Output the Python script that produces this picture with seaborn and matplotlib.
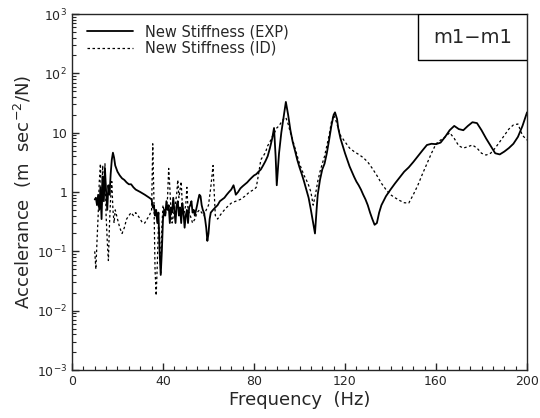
import numpy as np
import pandas as pd
import matplotlib
matplotlib.use("Agg")
import matplotlib.pyplot as plt
import seaborn as sns
from matplotlib.patches import Rectangle
from matplotlib.ticker import MultipleLocator, LogLocator, FixedLocator, NullFormatter

# measured (EXP) accelerance
exp_freq = [10, 10.5, 11, 11.5, 12, 12.5, 13, 13.5, 14, 14.5, 15, 15.5, 16, 16.5, 17, 17.5, 18, 18.5, 19, 20,
            21, 22, 23, 24, 25, 26, 27, 28, 29, 30, 31, 32, 33, 34, 35, 35.5, 36, 36.5, 37, 37.5, 38, 38.5, 39,
            39.5, 40, 40.5, 41, 41.5, 42, 42.5, 43, 43.5, 44, 44.5, 45, 45.5, 46, 46.5, 47, 47.5, 48, 48.5, 49,
            49.5, 50, 50.5, 51, 51.5, 52, 52.5, 53, 53.5, 54, 55, 55.5, 56, 56.5, 57, 57.5, 58, 58.5, 59, 59.5,
            60, 60.5, 61, 62, 63, 64, 65, 66, 67, 68, 69, 70, 71, 71.5, 72, 73, 74, 75, 76, 77, 78, 79, 80, 81,
            82, 83, 84, 85, 86, 87, 88, 88.8, 89.5, 90, 91, 92, 93, 94, 95, 96, 97, 98, 99, 100, 101, 102, 103,
            104, 105, 106, 106.8, 107.5, 108, 109, 110, 111, 112, 113, 114, 115, 115.6, 116.5, 117, 118, 119,
            120, 121, 122, 123, 124, 125, 126, 127, 128, 129, 130, 131, 132, 133, 134, 135, 136, 138, 140, 142,
            144, 146, 148, 150, 152, 154, 156, 158, 160, 162, 164, 166, 168, 170, 172, 174, 176, 178, 180, 182,
            184, 186, 188, 190, 192, 194, 196, 198, 200]
exp_vals = [0.75, 0.8, 0.6, 0.9, 0.5, 1.2, 0.35, 1.8, 0.7, 2.5, 1.0, 0.5, 1.3, 0.9, 2.0, 3.5, 4.6, 3.8, 2.8, 2.2,
            1.9, 1.7, 1.6, 1.45, 1.35, 1.35, 1.2, 1.1, 1.05, 1.0, 0.95, 0.9, 0.85, 0.8, 0.75, 0.55, 0.6, 0.4, 0.5,
            0.3, 0.45, 0.1, 0.04, 0.1, 0.35, 0.5, 0.4, 0.7, 0.5, 0.6, 0.3, 0.55, 0.45, 0.8, 0.5, 0.3, 0.6, 0.7,
            0.4, 0.55, 0.3, 0.65, 0.45, 0.25, 0.4, 0.5, 0.3, 0.55, 0.6, 0.7, 0.45, 0.5, 0.4, 0.6, 0.75, 0.9,
            0.85, 0.6, 0.5, 0.45, 0.35, 0.25, 0.15, 0.2, 0.35, 0.45, 0.5, 0.55, 0.6, 0.7, 0.75, 0.8, 0.9, 1.0,
            1.1, 1.3, 1.1, 0.9, 1.0, 1.15, 1.25, 1.35, 1.45, 1.6, 1.75, 1.9, 2.0, 2.2, 2.4, 2.8, 3.3, 4.0, 5.5,
            8.0, 12, 4.0, 1.3, 4.5, 10, 18, 33, 20, 11, 7, 5, 3.5, 2.6, 2.0, 1.5, 1.1, 0.8, 0.5, 0.3, 0.2, 0.5,
            0.9, 1.6, 2.4, 3.0, 4.5, 7.5, 13, 20, 22, 17, 12, 8, 6, 4.5, 3.5, 2.7, 2.2, 1.8, 1.5, 1.3, 1.1, 0.9,
            0.75, 0.6, 0.45, 0.35, 0.28, 0.3, 0.45, 0.6, 0.85, 1.1, 1.4, 1.75, 2.2, 2.6, 3.2, 4.0, 5.0, 6.2, 6.5,
            6.4, 6.8, 8.5, 11, 13, 11.5, 11, 13, 15, 14.5, 11, 8, 6, 4.5, 4.3, 4.8, 5.5, 6.5, 8.5, 13, 22]

# identified (ID) model accelerance
id_freq = [10, 10.5, 11, 11.5, 12, 12.5, 13, 13.5, 14, 14.5, 15, 15.5, 16, 16.5, 17, 17.5, 18, 18.5, 19, 20,
           21, 22, 23, 24, 25, 26, 27, 28, 29, 30, 31, 32, 33, 34, 35, 35.5, 36, 36.5, 37, 37.5, 38, 38.5, 39,
           39.5, 40, 41, 42, 42.5, 43, 43.5, 44, 45, 46, 46.5, 47, 48, 48.5, 49, 50, 50.5, 51, 52, 53, 54, 55,
           56, 57, 58, 59, 60, 61, 62, 62.5, 63, 64, 65, 66, 67, 68, 69, 70, 72, 74, 76, 78, 80, 81, 82, 83, 84,
           85, 86, 87, 88, 89, 90, 91, 92, 93, 94, 95, 96, 97, 98, 99, 100, 101, 102, 103, 104, 105, 106, 107,
           108, 109, 110, 111, 112, 113, 114, 115, 116, 117, 118, 120, 122, 124, 126, 128, 130, 132, 134, 136,
           138, 140, 142, 144, 146, 148, 150, 152, 154, 156, 158, 160, 162, 164, 166, 168, 170, 172, 174, 176,
           178, 180, 182, 184, 186, 188, 190, 192, 194, 196, 198, 200]
id_vals = [0.1, 0.05, 0.15, 0.4, 1.5, 3.0, 0.6, 2.8, 0.9, 3.0, 0.4, 0.15, 0.07, 0.3, 0.8, 1.5, 0.5, 0.3, 0.5,
           0.35, 0.25, 0.2, 0.25, 0.35, 0.4, 0.45, 0.4, 0.45, 0.4, 0.35, 0.3, 0.3, 0.35, 0.4, 0.5, 6.5, 0.8,
           0.05, 0.018, 0.06, 0.3, 0.2, 0.04, 0.25, 0.6, 0.4, 0.8, 2.5, 1.2, 0.5, 0.3, 0.5, 0.9, 1.6, 0.8, 1.5,
           0.6, 0.4, 0.6, 1.2, 0.5, 0.4, 0.3, 0.35, 0.45, 0.5, 0.45, 0.4, 0.5, 0.6, 1.2, 2.8, 1.0, 0.4, 0.35,
           0.4, 0.45, 0.5, 0.55, 0.6, 0.65, 0.7, 0.75, 0.85, 1.0, 1.1, 1.2, 2.0, 3.5, 4.0, 4.6, 6.0, 7.0, 8.5,
           10, 12, 13, 15, 17, 18, 14, 10, 7.5, 5.5, 4.0, 3.0, 2.4, 1.9, 1.6, 1.3, 1.0, 0.6, 0.9, 1.5, 2.2,
           3.0, 4.0, 6.0, 9.0, 15, 20, 16, 12, 9, 7, 5.5, 4.8, 4.3, 3.8, 3.2, 2.5, 1.9, 1.4, 1.1, 0.9, 0.8,
           0.72, 0.66, 0.65, 0.9, 1.3, 2.0, 3.0, 4.5, 6.5, 7.5, 8.5, 10, 8, 6, 5.5, 5.8, 6.2, 5.5, 4.5, 4.2,
           4.5, 5.5, 7, 9, 11.5, 13.5, 14, 9, 7.5]

y_ticks = [1e-3, 1e-2, 1e-1, 1, 10, 1e2, 1e3]
y_ticklabels = [r"$10^{-3}$", r"$10^{-2}$", r"$10^{-1}$", "1", "10", r"$10^{2}$", r"$10^{3}$"]
x_ticks = [0, 40, 80, 120, 160, 200]

df_exp = pd.DataFrame({"freq": exp_freq, "acc": exp_vals})
df_id = pd.DataFrame({"freq": id_freq, "acc": id_vals})

sns.set_style("ticks")
plt.rcParams["font.family"] = ["DejaVu Sans"]
plt.rcParams["mathtext.default"] = "regular"

fig = plt.figure(figsize=(5.4, 4.18), dpi=100)
ax = fig.add_axes([0.1333, 0.1148, 0.8427, 0.8517])

sns.lineplot(data=df_exp, x="freq", y="acc", ax=ax, color="black", linewidth=1.3,
             label="New Stiffness (EXP)", estimator=None, sort=False)
sns.lineplot(data=df_id, x="freq", y="acc", ax=ax, color="black", linewidth=0.9,
             linestyle=(0, (2, 2)), label="New Stiffness (ID)", estimator=None, sort=False)

ax.set_yscale("log")
ax.set_xlim(0, 200)
ax.set_ylim(1e-3, 1e3)
ax.yaxis.set_major_locator(FixedLocator(y_ticks))
ax.set_yticklabels(y_ticklabels, fontsize=9)
ax.yaxis.set_minor_locator(LogLocator(base=10, subs=np.arange(2, 10), numticks=20))
ax.yaxis.set_minor_formatter(NullFormatter())
ax.set_xticks(x_ticks)
ax.set_xticklabels([str(t) for t in x_ticks], fontsize=9)
ax.xaxis.set_minor_locator(MultipleLocator(5))

ax.tick_params(axis="both", which="major", direction="in", length=5, width=1.0)
ax.tick_params(axis="both", which="minor", direction="in", length=3, width=0.8)
for sp in ax.spines.values():
    sp.set_linewidth(1.0)
    sp.set_visible(True)

ax.set_xlabel("Frequency  (Hz)", fontsize=13, labelpad=2)
ax.set_ylabel(r"Accelerance  (m  sec$^{-2}$/N)", fontsize=13, labelpad=2)

ax.legend(loc="upper left", frameon=False, fontsize=10.5, handlelength=3.2,
          borderaxespad=0.3, labelspacing=0.1, bbox_to_anchor=(0.01, 1.0))

# label box in the upper right corner
ax.add_patch(Rectangle((0.76, 0.871), 0.24, 0.129, transform=ax.transAxes,
                       facecolor="white", edgecolor="black", linewidth=1.0, zorder=5))
ax.text(0.88, 0.935, "m1\u2212m1", transform=ax.transAxes, ha="center", va="center",
        fontsize=14, zorder=6)

fig.savefig("out.png", dpi=100)
